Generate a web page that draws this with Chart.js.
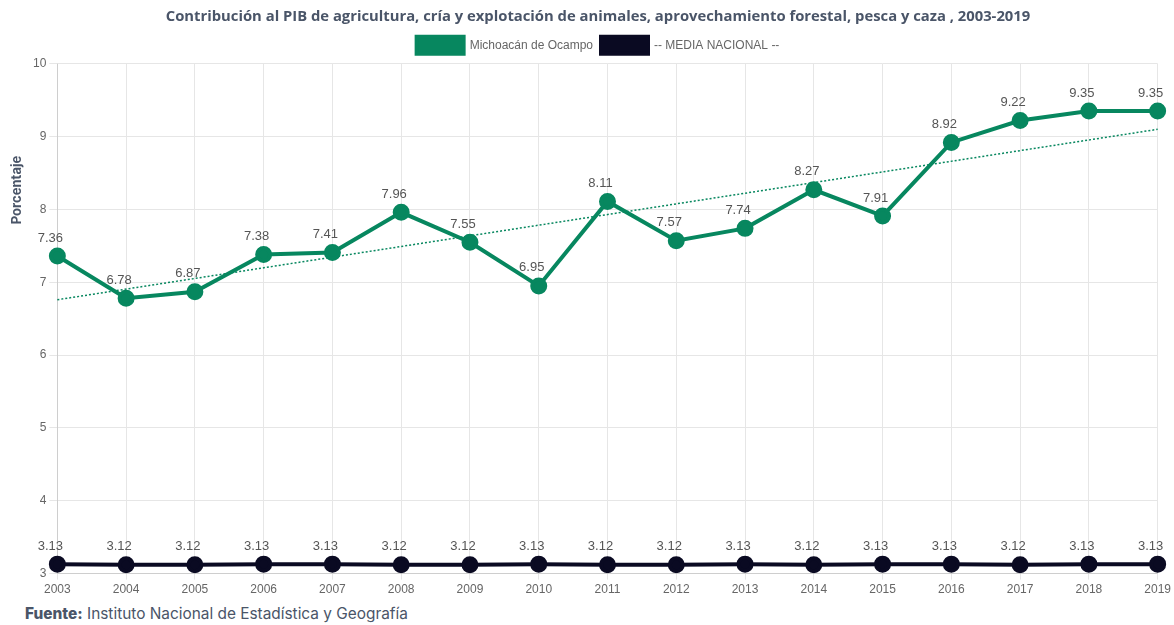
<!DOCTYPE html>
<html>
<head>
<meta charset="utf-8">
<script src="https://cdn.jsdelivr.net/npm/chart.js@4.4.0/dist/chart.umd.min.js"></script>
<style>
  html,body{margin:0;padding:0;background:#fff;}
  #wrap{position:absolute;left:0;top:0;width:1174px;height:600px;}
  #footer{position:absolute;left:25px;top:604px;font-family:"Inter","Noto Sans",sans-serif;font-size:15.4px;color:#4a5568;}
  #footer b{font-weight:800;}
</style>
</head>
<body>
<div id="wrap"><canvas id="c" width="1174" height="600"></canvas></div>
<div id="footer"><b>Fuente:</b> Instituto Nacional de Estadística y Geografía</div>
<script>
const years = ['2003','2004','2005','2006','2007','2008','2009','2010','2011','2012','2013','2014','2015','2016','2017','2018','2019'];
const michoacan = [7.36,6.78,6.87,7.38,7.41,7.96,7.55,6.95,8.11,7.57,7.74,8.27,7.91,8.92,9.22,9.35,9.35];
const mediaNacional = [3.13,3.12,3.12,3.13,3.13,3.12,3.12,3.13,3.12,3.12,3.13,3.12,3.13,3.13,3.12,3.13,3.13];
const trend = [6.76,null,null,null,null,null,null,null,null,null,null,null,null,null,null,null,9.10];
const yTicks = [3,4,5,6,7,8,9,10];

const GREEN = '#07875f';
const DARK = '#0a0a22';

const labelPlugin = {
  id:'labels',
  afterDatasetsDraw(chart){
    const ctx = chart.ctx;
    ctx.save();
    ctx.font = '13px "Liberation Sans", Arial, sans-serif';
    ctx.fillStyle = '#555';
    ctx.textAlign = 'center';
    ctx.textBaseline = 'middle';
    [0,1].forEach(di=>{
      const meta = chart.getDatasetMeta(di);
      const data = chart.data.datasets[di].data;
      meta.data.forEach((pt,i)=>{
        ctx.fillText(data[i].toFixed(2), pt.x-7, pt.y-18);
      });
    });
    ctx.save();
    ctx.translate(17,190);
    ctx.rotate(-Math.PI/2);
    ctx.font = 'bold 13px "Inter","Noto Sans",sans-serif';
    ctx.fillStyle = '#4a5568';
    ctx.fillText('Porcentaje',0,0);
    ctx.restore();
    ctx.restore();
  }
};

new Chart(document.getElementById('c'), {
  type:'line',
  data:{
    labels: years,
    datasets:[
      {label:'Michoacán de Ocampo', data: michoacan, borderColor: GREEN, backgroundColor: GREEN,
       borderWidth:4, pointRadius:6.5, pointHoverRadius:6.5, tension:0, order:1},
      {label:'-- MEDIA NACIONAL --', data: mediaNacional, borderColor: DARK, backgroundColor: DARK,
       borderWidth:4, pointRadius:6.5, pointHoverRadius:6.5, tension:0, order:2},
      {label:'trend', data: trend, borderColor: GREEN, borderWidth:1.5, borderDash:[2,2],
       pointRadius:0, spanGaps:true, fill:false, order:3}
    ]
  },
  options:{
    responsive:false,
    animation:false,
    layout:{padding:{left:30,right:8,top:0,bottom:0}},
    plugins:{
      title:{display:true, text:'Contribución al PIB de agricultura, cría y explotación de animales, aprovechamiento forestal, pesca y caza , 2003-2019',
        color:'#4a5568', font:{family:'"Open Sans","Noto Sans",sans-serif', size:14.8, weight:'bold'}, padding:{top:8,bottom:3}},
      legend:{display:true, labels:{boxWidth:47, boxHeight:17, padding:8, color:'#666', font:{family:'"Liberation Sans", Arial, sans-serif', size:12},
        filter:(item)=>item.text!=='trend'}},
      tooltip:{enabled:false}
    },
    scales:{
      x:{offset:false, grid:{color:'#e6e6e6', tickLength:6}, ticks:{color:'#666', font:{size:12, family:'"Liberation Sans", Arial, sans-serif'}, maxRotation:0, autoSkip:false}},
      y:{min:3, max:10, afterBuildTicks:(ax)=>{ax.ticks = yTicks.map(v=>({value:v}));},
         grid:{color:'#e6e6e6', tickLength:8},
         ticks:{color:'#666', font:{size:12, family:'"Liberation Sans", Arial, sans-serif'}}}
    }
  },
  plugins:[labelPlugin]
});
</script>
</body>
</html>
